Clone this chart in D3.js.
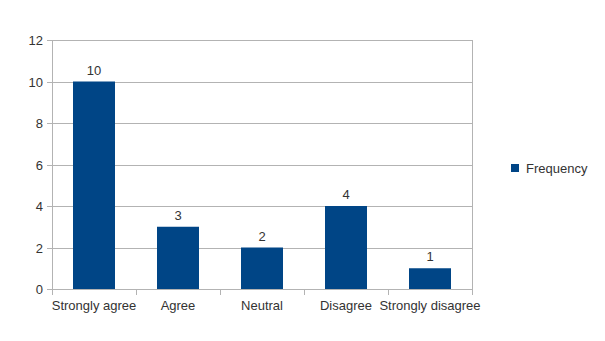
<!DOCTYPE html>
<html><head><meta charset="utf-8">
<script src="https://cdn.jsdelivr.net/npm/d3@7"></script>
<style>body{margin:0;background:#fff}svg{display:block}text{font-family:"Liberation Sans",Arial,sans-serif;fill:#333}</style>
</head><body>
<script>
const categories = ["Strongly agree","Agree","Neutral","Disagree","Strongly disagree"];
const frequency = [10,3,2,4,1];
const yTicks = [0,2,4,6,8,10,12];
const seriesName = "Frequency";

const W=605,H=341;
const m={left:52,right:133,top:40,bottom:52};
const FS=13;
const svg=d3.select("body").append("svg").attr("width",W).attr("height",H);
const x=d3.scaleBand().domain(categories).range([m.left,W-m.right]).paddingInner(0.5).paddingOuter(0.25);
const xb=d3.scaleBand().domain(categories).range([m.left,W-m.right]);
const y=d3.scaleLinear().domain([0,12]).range([H-m.bottom,m.top]);

// gridlines
svg.append("g").selectAll("line").data(yTicks).join("line")
 .attr("x1",m.left-5).attr("x2",W-m.right)
 .attr("y1",d=>Math.round(y(d))+0.5).attr("y2",d=>Math.round(y(d))+0.5)
 .attr("stroke","#b3b3b3").attr("stroke-width",1);
// left and right borders
svg.append("line").attr("x1",m.left+0.5).attr("x2",m.left+0.5).attr("y1",y(12)).attr("y2",y(0)+6).attr("stroke","#b3b3b3");
svg.append("line").attr("x1",W-m.right+0.5).attr("x2",W-m.right+0.5).attr("y1",y(12)).attr("y2",y(0)+6).attr("stroke","#b3b3b3");
// x ticks at boundaries
svg.append("g").selectAll("line").data(categories.slice(1)).join("line")
 .attr("x1",d=>Math.round(xb(d))+0.5).attr("x2",d=>Math.round(xb(d))+0.5)
 .attr("y1",y(0)).attr("y2",y(0)+6).attr("stroke","#b3b3b3");
// y labels
svg.append("g").selectAll("text").data(yTicks).join("text")
 .attr("x",m.left-9).attr("y",d=>y(d)+5).attr("text-anchor","end").attr("font-size",FS).text(d=>d);
// bars
svg.append("g").selectAll("rect").data(frequency).join("rect")
 .attr("x",(d,i)=>x(categories[i])).attr("width",x.bandwidth())
 .attr("y",d=>y(d)).attr("height",d=>y(0)-y(d)).attr("fill","#004586");
// value labels
svg.append("g").selectAll("text").data(frequency).join("text")
 .attr("x",(d,i)=>x(categories[i])+x.bandwidth()/2).attr("y",d=>y(d)-7)
 .attr("text-anchor","middle").attr("font-size",FS).text(d=>d);
// category labels
svg.append("g").selectAll("text").data(categories).join("text")
 .attr("x",d=>xb(d)+xb.bandwidth()/2).attr("y",y(0)+21)
 .attr("text-anchor","middle").attr("font-size",FS).text(d=>d);
// legend
svg.append("rect").attr("x",511).attr("y",164).attr("width",8).attr("height",8).attr("fill","#004586");
svg.append("text").attr("x",526).attr("y",172.5).attr("font-size",FS).text(seriesName);
</script>
</body></html>
